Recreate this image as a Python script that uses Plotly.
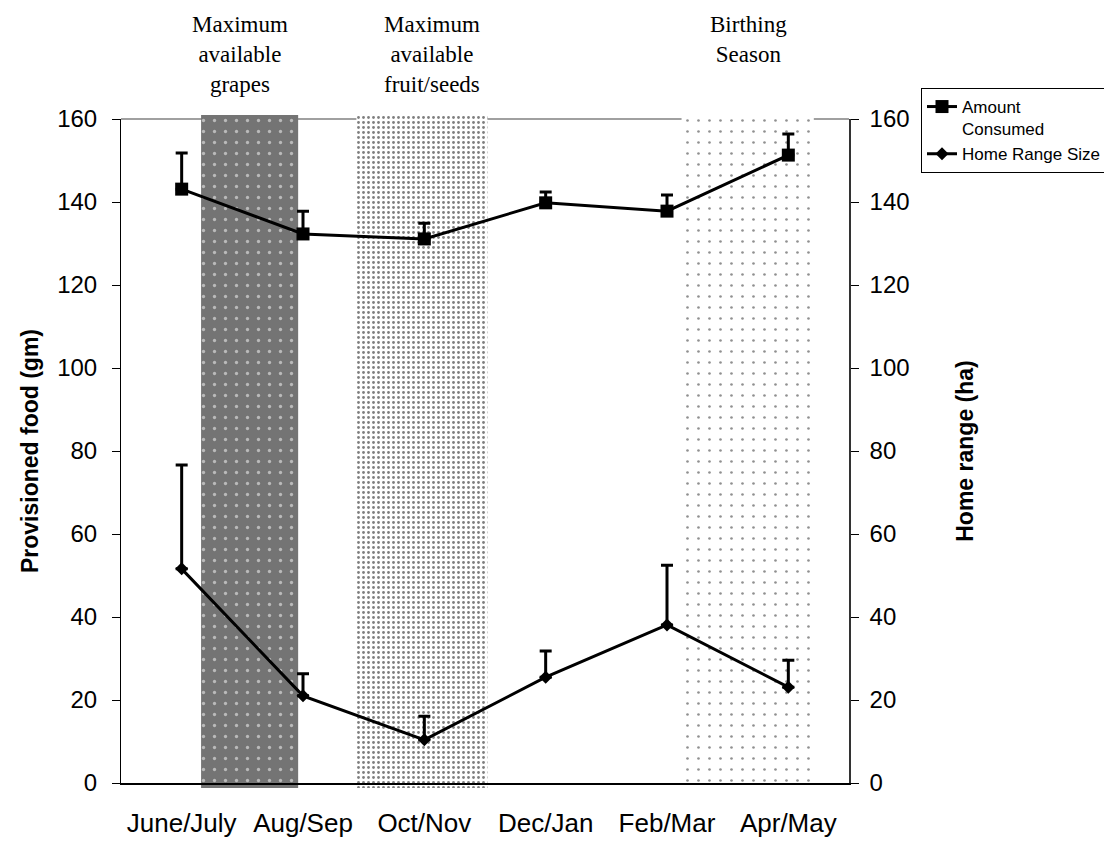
import plotly.graph_objects as go

# ---------------- data ----------------
categories = ["June/July", "Aug/Sep", "Oct/Nov", "Dec/Jan", "Feb/Mar", "Apr/May"]
amount_consumed = [143.1, 132.3, 131.1, 139.8, 137.8, 151.3]
amount_err_up = [8.7, 5.5, 3.8, 2.6, 3.9, 5.1]
home_range = [51.6, 21.0, 10.4, 25.5, 38.1, 23.1]
home_err_up = [25.0, 5.3, 5.7, 6.3, 14.4, 6.5]
y_tick_values = [0, 20, 40, 60, 80, 100, 120, 140, 160]

# seasonal periods (in category units, 0 = June/July)
season_names = ["Maximum<br>available<br>grapes",
                "Maximum<br>available<br>fruit/seeds",
                "Birthing<br>Season"]
season_start = [0.16, 1.44, 4.12]
season_end = [0.96, 2.52, 5.21]

# ---------------- derived ----------------
x_idx = list(range(len(categories)))
boundaries = [i - 0.5 for i in range(len(categories) + 1)]
xr = [-0.5, len(categories) - 0.5]
yr = [0, 160]

SANS = "Liberation Sans, Arial, sans-serif"
SERIF = "Liberation Serif, Times New Roman, serif"

# page geometry (the html body has an 8px margin)
OFF = 8
PAGE_W, PAGE_H = 1112, 846
W, H = PAGE_W - OFF, PAGE_H - OFF
plot_left, plot_right = 121, 849          # page px
ext_top, ext_bottom = 115, 788            # page px (pattern band extent)
main_top, main_bottom = 119, 783          # page px (axes extent)
ML = plot_left - OFF
MR = PAGE_W - plot_right
MT = ext_top - OFF
MB = PAGE_H - ext_bottom
pw = plot_right - plot_left
ph = ext_bottom - ext_top
d0 = (ext_bottom - main_bottom) / ph
d1 = (ext_bottom - main_top) / ph

pattern_styles = [
    dict(shape=".", bgcolor="#747474", fgcolor="white", size=11, solidity=0.07),
    dict(shape=".", bgcolor="white", fgcolor="black", size=5, solidity=0.24),
    dict(shape=".", bgcolor="white", fgcolor="#222222", size=11, solidity=0.045),
]

fig = go.Figure()

for s, e, pat in zip(season_start, season_end, pattern_styles):
    fig.add_trace(go.Bar(
        x=[(s + e) / 2], y=[1], base=[0], width=[e - s],
        xaxis="x", yaxis="y",
        marker=dict(color="white", line=dict(width=0), pattern=pat),
        showlegend=False, hoverinfo="skip",
    ))

fig.add_trace(go.Scatter(
    x=x_idx, y=amount_consumed, xaxis="x2", yaxis="y2",
    name="Amount<br>Consumed", mode="lines+markers",
    line=dict(color="black", width=3),
    marker=dict(symbol="square", size=13, color="black"),
    error_y=dict(type="data", symmetric=False, array=amount_err_up,
                 arrayminus=[0] * len(amount_err_up),
                 color="black", thickness=3, width=6),
))
fig.add_trace(go.Scatter(
    x=x_idx, y=home_range, xaxis="x2", yaxis="y3",
    name="Home Range Size", mode="lines+markers",
    line=dict(color="black", width=3),
    marker=dict(symbol="diamond", size=10, color="black"),
    error_y=dict(type="data", symmetric=False, array=home_err_up,
                 arrayminus=[0] * len(home_err_up),
                 color="black", thickness=3, width=6),
))

common_y = dict(range=yr, tickvals=y_tick_values, showgrid=False, zeroline=False,
                fixedrange=True)

fig.update_layout(
    width=W, height=H,
    margin=dict(l=ML, r=MR, t=MT, b=MB, autoexpand=False),
    paper_bgcolor="white", plot_bgcolor="rgba(0,0,0,0)",
    barmode="overlay",
    font=dict(family=SANS, color="black"),
    xaxis=dict(domain=[0, 1], range=xr, visible=False, fixedrange=True),
    yaxis=dict(domain=[0, 1], range=[0, 1], visible=False, fixedrange=True),
    xaxis2=dict(domain=[0, 1], anchor="y2", range=xr, tickvals=x_idx, ticktext=categories,
                ticks="", showline=True, linecolor="black", linewidth=1.5,
                showgrid=False, zeroline=False, tickfont=dict(size=26, family=SANS),
                ticklabelstandoff=16, fixedrange=True),
    xaxis3=dict(overlaying="x2", anchor="y2", range=xr, tickvals=boundaries,
                ticks="outside", ticklen=8, tickcolor="black", showticklabels=False,
                showgrid=False, zeroline=False, showline=False, fixedrange=True),
    xaxis4=dict(overlaying="x2", anchor="y2", range=xr, tickvals=boundaries,
                ticks="inside", ticklen=10, tickcolor="black", showticklabels=False,
                showgrid=False, zeroline=False, showline=False, fixedrange=True),
    yaxis2=dict(domain=[d0, d1], anchor="x2", side="left", ticks="outside", ticklen=8,
                tickcolor="black", showline=True, linecolor="black", linewidth=1,
                tickfont=dict(size=24, family=SANS), ticklabelstandoff=10,
                title=dict(text="<b>Provisioned food (gm)</b>",
                           font=dict(size=23, family=SANS), standoff=12),
                **common_y),
    yaxis3=dict(overlaying="y2", anchor="x2", side="right", ticks="outside", ticklen=8,
                tickcolor="black", showline=True, linecolor="#333333", linewidth=1.5,
                tickfont=dict(size=24, family=SANS), ticklabelstandoff=6,
                title=dict(text="<b>Home range (ha)</b>",
                           font=dict(size=23, family=SANS), standoff=48),
                **common_y),
    yaxis4=dict(overlaying="y2", anchor="x2", side="left", ticks="inside", ticklen=7,
                tickcolor="black", showticklabels=False, showline=False, **common_y),
    yaxis5=dict(overlaying="y2", anchor="x2", side="right", ticks="inside", ticklen=8,
                tickcolor="black", showticklabels=False, showline=False, **common_y),
    legend=dict(x=(921 - plot_left) / pw, y=(ext_bottom - 88) / ph,
                xanchor="left", yanchor="top", bgcolor="white",
                bordercolor="black", borderwidth=1, valign="top",
                font=dict(size=17, family=SANS), tracegroupgap=0),
    shapes=[dict(type="line", xref="x2 domain", yref="y2 domain", x0=0, x1=1, y0=1, y1=1,
                 line=dict(color="#a0a0a0", width=2), layer="below")],
)

label_x = [0.48, 2.06, 4.67]
for name, lx in zip(season_names, label_x):
    fig.add_annotation(text=name, x=lx, xref="x2", y=(ext_bottom - 10) / ph, yref="paper",
                       xanchor="center", yanchor="top", showarrow=False,
                       font=dict(family=SERIF, size=23, color="black"), align="center")

fig.write_html("out.html")
